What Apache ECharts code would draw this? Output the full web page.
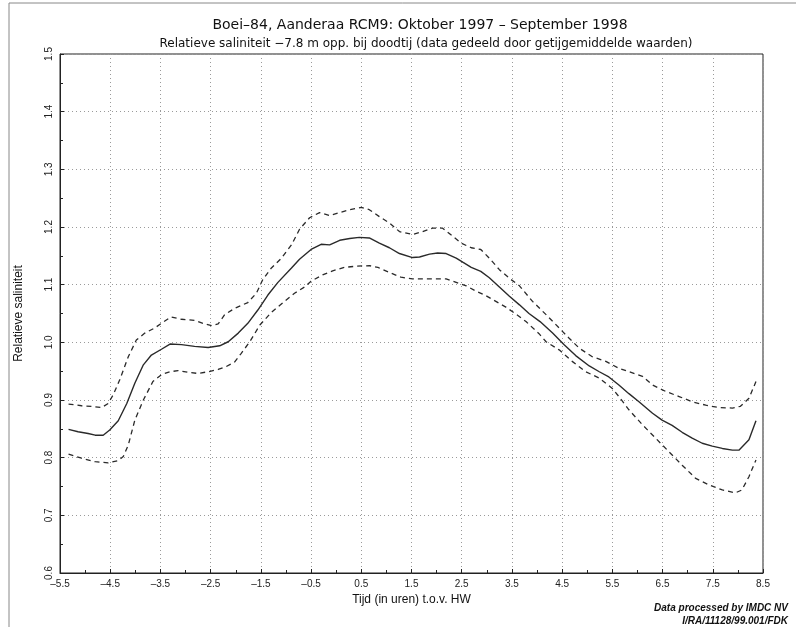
<!DOCTYPE html>
<html>
<head>
<meta charset="utf-8">
<script src="https://cdn.jsdelivr.net/npm/echarts@6/dist/echarts.min.js"></script>
<style>
html,body{margin:0;padding:0;background:#fff;}
#c{width:796px;height:627px;}
</style>
</head>
<body>
<div id="c"></div>
<script>
const titleText = 'Boei\u201384, Aanderaa RCM9: Oktober 1997 \u2013 September 1998';
const subtitleText = 'Relatieve saliniteit \u22127.8 m opp. bij doodtij (data gedeeld door getijgemiddelde waarden)';
const xName = 'Tijd (in uren) t.o.v. HW';
const yName = 'Relatieve saliniteit';
const footer1 = 'Data processed by IMDC NV';
const footer2 = 'I/RA/11128/99.001/FDK';

const meanHours = [-5.33,-5.14,-4.94,-4.80,-4.64,-4.51,-4.34,-4.17,-4.01,-3.84,-3.68,-3.48,-3.31,-3.08,-2.82,-2.55,-2.32,-2.15,-1.95,-1.76,-1.56,-1.36,-1.16,-0.89,-0.73,-0.50,-0.30,-0.13,0.07,0.27,0.46,0.66,0.86,1.06,1.26,1.52,1.66,1.86,2.02,2.19,2.39,2.52,2.69,2.88,3.05,3.25,3.45,3.65,3.84,4.06,4.31,4.54,4.77,5.04,5.24,5.43,5.63,5.83,6.03,6.30,6.49,6.69,6.89,7.09,7.29,7.49,7.69,7.89,8.02,8.22,8.36];
const meanValues = [0.849,0.845,0.842,0.839,0.839,0.848,0.864,0.894,0.929,0.961,0.978,0.988,0.997,0.996,0.993,0.991,0.994,1.001,1.016,1.033,1.056,1.082,1.104,1.129,1.144,1.161,1.170,1.169,1.177,1.180,1.182,1.181,1.172,1.164,1.154,1.147,1.148,1.153,1.155,1.154,1.146,1.139,1.130,1.123,1.112,1.096,1.080,1.065,1.050,1.036,1.016,0.996,0.977,0.959,0.949,0.940,0.926,0.911,0.897,0.877,0.865,0.856,0.844,0.834,0.825,0.820,0.816,0.813,0.813,0.831,0.864];

const upperHours = [-5.33,-5.07,-4.87,-4.67,-4.54,-4.44,-4.31,-4.14,-3.98,-3.81,-3.61,-3.48,-3.29,-3.08,-2.82,-2.62,-2.48,-2.35,-2.22,-2.02,-1.76,-1.59,-1.46,-1.29,-1.09,-0.89,-0.73,-0.53,-0.33,-0.13,0.07,0.27,0.50,0.66,0.86,1.06,1.26,1.52,1.72,1.92,2.12,2.32,2.49,2.69,2.88,3.05,3.25,3.45,3.65,3.91,4.18,4.44,4.64,4.84,5.10,5.37,5.63,5.90,6.10,6.30,6.56,6.83,7.09,7.36,7.62,7.89,8.05,8.22,8.36];
const upperValues = [0.893,0.890,0.889,0.887,0.894,0.909,0.935,0.975,1.004,1.016,1.025,1.033,1.044,1.040,1.038,1.032,1.029,1.032,1.048,1.059,1.069,1.085,1.109,1.129,1.146,1.169,1.196,1.216,1.225,1.220,1.225,1.230,1.234,1.230,1.218,1.207,1.192,1.187,1.192,1.198,1.198,1.184,1.172,1.164,1.161,1.146,1.126,1.111,1.098,1.071,1.048,1.025,1.007,0.990,0.975,0.967,0.955,0.947,0.941,0.926,0.915,0.906,0.897,0.891,0.887,0.886,0.889,0.903,0.932];

const lowerHours = [-5.33,-5.07,-4.80,-4.54,-4.34,-4.24,-4.14,-4.01,-3.84,-3.65,-3.48,-3.31,-3.15,-2.95,-2.75,-2.55,-2.35,-2.19,-2.02,-1.89,-1.72,-1.52,-1.29,-1.03,-0.83,-0.63,-0.50,-0.27,-0.07,0.17,0.40,0.66,0.83,1.06,1.29,1.52,1.72,1.99,2.19,2.39,2.59,2.78,2.98,3.18,3.38,3.58,3.78,4.04,4.18,4.44,4.70,4.97,5.24,5.50,5.63,5.83,6.10,6.36,6.63,6.89,7.16,7.42,7.69,7.95,8.08,8.22,8.36];
const lowerValues = [0.806,0.799,0.793,0.791,0.795,0.802,0.822,0.865,0.900,0.932,0.944,0.949,0.951,0.948,0.946,0.949,0.953,0.958,0.966,0.981,1.001,1.030,1.052,1.071,1.085,1.096,1.106,1.117,1.124,1.130,1.132,1.133,1.130,1.121,1.113,1.110,1.110,1.110,1.110,1.104,1.098,1.089,1.081,1.071,1.061,1.049,1.036,1.015,1.001,0.987,0.967,0.949,0.938,0.920,0.906,0.883,0.857,0.834,0.810,0.787,0.764,0.753,0.744,0.739,0.744,0.767,0.796];

function zip(xs, ys){ return xs.map((x,i)=>[x, ys[i]]); }

const chart = echarts.init(document.getElementById('c'), null, {renderer:'canvas'});
const lineColor = '#2a2a2a';
const font = 'Liberation Sans, Arial, sans-serif';
const wideFont = 'DejaVu Sans, sans-serif';
chart.setOption({
  backgroundColor:'#fff',
  animation:false,
  title:[
    {text:titleText, left:415, top:13, textAlign:'center',
     textStyle:{fontFamily:wideFont, fontSize:14, fontWeight:'normal', color:'#111'}},
    {text:subtitleText, left:421, top:33, textAlign:'center',
     textStyle:{fontFamily:wideFont, fontSize:12, fontWeight:'normal', color:'#111'}}
  ],
  grid:{left:60, top:54, right:33, bottom:54, show:true, borderColor:'#222', borderWidth:1, backgroundColor:'transparent'},
  xAxis:{
    type:'value', min:-5.5, max:8.5, interval:1,
    name:xName, nameLocation:'middle', nameGap:18,
    nameTextStyle:{fontFamily:font, fontSize:12, color:'#111'},
    axisLine:{show:true, onZero:false, lineStyle:{color:'#222', width:1}},
    axisTick:{show:true, inside:true, length:4, lineStyle:{color:'#222'}},
    minorTick:{show:true, splitNumber:2, length:3, lineStyle:{color:'#222'}},
    axisLabel:{fontFamily:font, fontSize:10, color:'#222', margin:6,
      formatter:v=>v.toFixed(1).replace('-', '\u2013')},
    splitLine:{show:true, lineStyle:{color:'#9a9a9a', type:[1,3], width:1}}
  },
  yAxis:{
    type:'value', min:0.6, max:1.5, interval:0.1,
    name:yName, nameLocation:'middle', nameGap:35,
    nameTextStyle:{fontFamily:font, fontSize:12, color:'#111'},
    axisLine:{show:true, onZero:false, lineStyle:{color:'#222', width:1}},
    axisTick:{show:true, inside:true, length:4, lineStyle:{color:'#222'}},
    minorTick:{show:true, splitNumber:2, length:3, lineStyle:{color:'#222'}},
    axisLabel:{fontFamily:font, fontSize:10, color:'#222', rotate:90, margin:6,
      formatter:v=>v.toFixed(1)},
    splitLine:{show:true, lineStyle:{color:'#9a9a9a', type:[1,3], width:1}}
  },
  series:[
    {type:'line', data:zip(upperHours, upperValues), showSymbol:false, smooth:false,
     lineStyle:{color:lineColor, width:1.3, type:[5,4]}},
    {type:'line', data:zip(meanHours, meanValues), showSymbol:false, smooth:false,
     lineStyle:{color:lineColor, width:1.4, type:'solid'}},
    {type:'line', data:zip(lowerHours, lowerValues), showSymbol:false, smooth:false,
     lineStyle:{color:lineColor, width:1.3, type:[5,4]}}
  ],
  graphic:[
    {type:'line', shape:{x1:9, y1:3, x2:796, y2:3}, style:{stroke:'#888', lineWidth:1}},
    {type:'line', shape:{x1:9, y1:3, x2:9, y2:627}, style:{stroke:'#888', lineWidth:1}},
    {type:'text', right:8, top:603, style:{text:footer1, font:'italic bold 10px '+font, fill:'#111', textAlign:'right'}},
    {type:'text', right:8, top:616, style:{text:footer2, font:'italic bold 10px '+font, fill:'#111', textAlign:'right'}}
  ]
});
</script>
</body>
</html>
